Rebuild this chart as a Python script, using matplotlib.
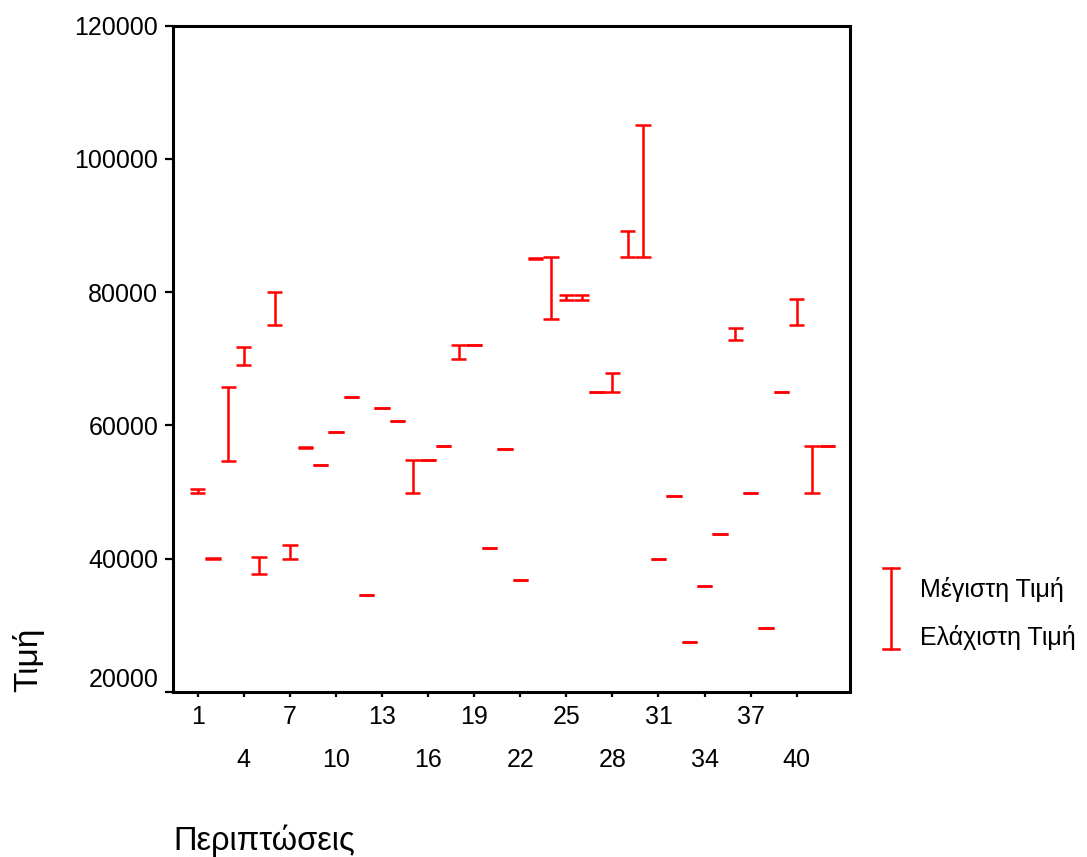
import matplotlib.pyplot as plt
from matplotlib.lines import Line2D
import numpy as np

plt.rcParams['font.family'] = ['Liberation Sans', 'DejaVu Sans']

# --- data: high / low value per case ---
cases = np.arange(1, 43)
high = [50400, 40100, 65700, 71800, 40200, 80000, 42000, 56800, 54000, 59000,
        64300, 34500, 62600, 60700, 54800, 54800, 56900, 72100, 72100, 41600,
        56500, 36700, 85100, 85300, 79500, 79500, 65000, 67900, 89100, 105100,
        39900, 49400, 27400, 35900, 43700, 74600, 49800, 29500, 65000, 78900,
        56900, 56900]
low = [49900, 39900, 54700, 69000, 37700, 75000, 39900, 56600, 54000, 59000,
       64300, 34500, 62600, 60700, 49800, 54800, 56900, 70000, 72100, 41600,
       56500, 36700, 84900, 76000, 78800, 78800, 65000, 65000, 85300, 85300,
       39900, 49400, 27400, 35900, 43700, 72800, 49800, 29500, 65000, 75000,
       49800, 56900]
row1_ticks = [1, 7, 13, 19, 25, 31, 37]
row2_ticks = [4, 10, 16, 22, 28, 34, 40]
y_ticks = [20000, 40000, 60000, 80000, 100000, 120000]

red = '#ff0000'
W, H = 1087, 857
fig = plt.figure(figsize=(W / 100, H / 100), dpi=100)
ax = fig.add_axes([173.3 / W, 1 - 691.7 / H, (850 - 173.3) / W, 666 / H])

# high-low bars with caps
ax.vlines(cases, low, high, color=red, lw=1.8)
ax.hlines(high, cases - 0.5, cases + 0.5, color=red, lw=1.8)
ax.hlines(low, cases - 0.5, cases + 0.5, color=red, lw=1.8)

ax.set_xlim(-0.59, 43.47)
ax.set_ylim(20000, 120000)

for s in ax.spines.values():
    s.set_linewidth(2.2)

ax.set_yticks(y_ticks, [str(v) for v in y_ticks])
ax.tick_params(axis='y', length=5.8, width=1.6, pad=5, labelsize=18)
ax.get_yticklabels()[0].set_va('bottom')

ax.set_xticks(row1_ticks, [str(v) for v in row1_ticks])
ax.set_xticks(row2_ticks, [str(v) for v in row2_ticks], minor=True)
ax.tick_params(axis='x', which='both', length=3.6, width=1.6, labelsize=18)
ax.tick_params(axis='x', which='major', pad=6.2)
ax.tick_params(axis='x', which='minor', pad=37.2)

# axis titles
fig.text(28 / W, 1 - 692 / H, 'Τιμή', rotation=90, ha='center', va='bottom', fontsize=24)
fig.text(173 / W, 1 - 850 / H, 'Περιπτώσεις', ha='left', va='baseline', fontsize=23.5)

# legend
lx = 891 / W
fig.add_artist(Line2D([lx, lx], [1 - 568 / H, 1 - 649 / H], color=red, lw=1.8))
for yy in (568, 649):
    fig.add_artist(Line2D([883 / W, 899 / W], [1 - yy / H, 1 - yy / H], color=red, lw=1.8))
fig.text(920 / W, 1 - 590 / H, 'Μέγιστη Τιμή', ha='left', va='center', fontsize=18)
fig.text(920 / W, 1 - 637 / H, 'Ελάχιστη Τιμή', ha='left', va='center', fontsize=18)

fig.savefig('out.png', dpi=100)
